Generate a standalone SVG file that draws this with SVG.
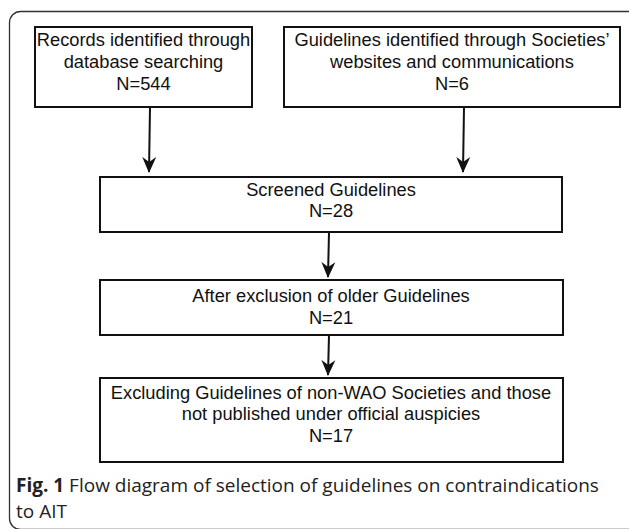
<svg xmlns="http://www.w3.org/2000/svg" width="629" height="529" viewBox="0 0 629 529">
<style>
.box{fill:#fff;stroke:#111;stroke-width:2}
.t{font-family:"Liberation Sans",Arial,sans-serif;font-size:18.3px;fill:#111;text-anchor:middle}
.cap{font-family:"Open Sans","Noto Sans",sans-serif;font-size:19px;fill:#222}
.conn{stroke:#111;stroke-width:2;fill:none}
</style>
<defs>
<marker id="ah" viewBox="0 0 16 16" refX="15" refY="8" markerWidth="16" markerHeight="16" markerUnits="userSpaceOnUse" orient="auto">
<path d="M0,1 L16,8 L0,15 L5,8 z" fill="#111"/>
</marker>
</defs>
<rect x="9.5" y="11.5" width="640" height="518" rx="11" fill="#fff" stroke="#333" stroke-width="1.3"/>
<g id="n1">
<rect class="box" x="35" y="27" width="217" height="80"/>
<text class="t" x="143.5" y="46">Records identified through</text>
<text class="t" x="143.5" y="68">database searching</text>
<text class="t" x="143.5" y="90">N=544</text>
</g>
<g id="n2">
<rect class="box" x="284" y="27" width="336" height="80"/>
<text class="t" x="452" y="46">Guidelines identified through Societies’</text>
<text class="t" x="452" y="68">websites and communications</text>
<text class="t" x="452" y="90">N=6</text>
</g>
<g id="n3">
<rect class="box" x="100" y="177" width="462" height="55"/>
<text class="t" x="331" y="196">Screened Guidelines</text>
<text class="t" x="331" y="217">N=28</text>
</g>
<g id="n4">
<rect class="box" x="100" y="280" width="463" height="55"/>
<text class="t" x="331" y="302">After exclusion of older Guidelines</text>
<text class="t" x="331" y="324">N=21</text>
</g>
<g id="n5">
<rect class="box" x="100" y="378" width="463" height="84"/>
<text class="t" x="331" y="399">Excluding Guidelines of non-WAO Societies and those</text>
<text class="t" x="331" y="420">not published under official auspicies</text>
<text class="t" x="331" y="442">N=17</text>
</g>
<g id="connectors">
<path class="conn" d="M150,107 L149,172" marker-end="url(#ah)"/>
<path class="conn" d="M464,107 L463,172" marker-end="url(#ah)"/>
<path class="conn" d="M329,232 L328,277" marker-end="url(#ah)"/>
<path class="conn" d="M329,335 L328,375" marker-end="url(#ah)"/>
</g>
<g id="caption">
<text class="cap" x="16" y="492"><tspan font-weight="bold">Fig. 1</tspan>  Flow diagram of selection of guidelines on contraindications</text>
<text class="cap" x="16" y="518">to AIT</text>
</g>
</svg>
